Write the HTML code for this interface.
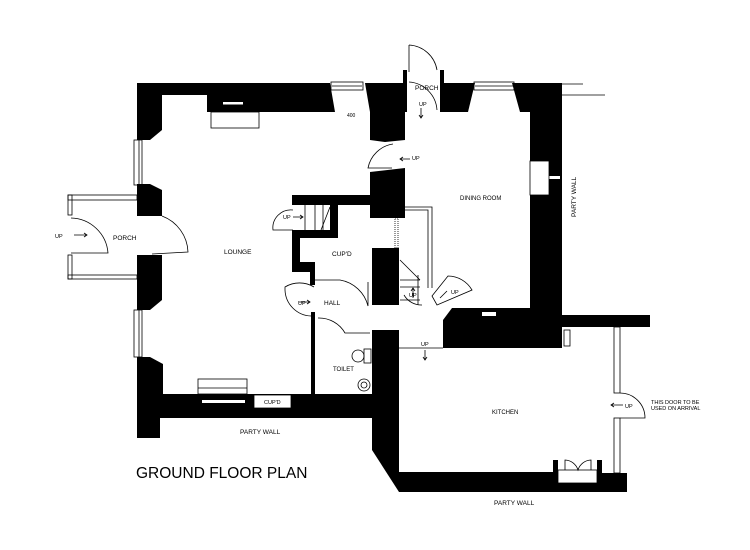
<!DOCTYPE html>
<html><head><meta charset="utf-8"><style>
html,body{margin:0;padding:0;background:#fff;}
svg{display:block;}
text{font-family:"Liberation Sans",sans-serif;fill:#000;}
.s{font-size:5.5px;}
</style></head><body>
<svg width="750" height="550" viewBox="0 0 750 550" xmlns="http://www.w3.org/2000/svg">
<g fill="#000" stroke="none">
<polygon points="137,83 330,83 335,112 207,112 207,95 162,95 162,130 150,140 137,140"/>
<polygon points="137,184 150,184 162,190 162,216 137,216"/>
<polygon points="137,255 162,255 162,300 150,310 137,310"/>
<polygon points="137,357 150,357 163,364 163,394 372,394 372,418 160,418 160,438 137,438"/>
<polygon points="365,83 405,83 405,140 385,142 370,140 370,112"/>
<rect x="403" y="70" width="4" height="42"/>
<rect x="440" y="70" width="4" height="42"/>
<polygon points="444,83 475,83 468,112 444,112"/>
<polygon points="512,83 562,83 562,315 650,315 650,327 562,327 562,348 443,348 443,320 452,308 530,308 530,112 520,112"/>
<!-- middle walls -->
<polygon points="370,172 405,168 405,218 370,218 370,205 292,205 292,195 370,195"/>
<rect x="330" y="205" width="8" height="33"/>
<rect x="292" y="230" width="46" height="8"/>
<rect x="292" y="238" width="8" height="34"/>
<rect x="292" y="262" width="22" height="10"/>
<rect x="310" y="262" width="5" height="23"/>
<rect x="372" y="248" width="27" height="57"/>
<rect x="311" y="312" width="4" height="82"/>
<polygon points="372,330 399,330 399,472 553,472 553,460 558,460 558,483 597,483 597,460 602,460 602,473 627,473 627,492 399,492 372,450"/>
</g>
<g fill="#fff">
<rect x="223" y="102" width="20" height="2.5"/>
<rect x="482" y="312" width="14" height="4"/>
<rect x="202" y="400" width="43" height="3"/>
<rect x="549" y="176" width="11" height="3"/>
</g>
<g fill="none" stroke="#000" stroke-width="0.8">
<rect x="134" y="140" width="8" height="45"/><line x1="139" y1="140" x2="139" y2="185"/>
<rect x="134" y="310" width="8" height="47"/><line x1="139" y1="310" x2="139" y2="357"/>
<rect x="331" y="82" width="32" height="8"/><line x1="332" y1="86" x2="362" y2="86"/>
<rect x="474" y="82" width="40" height="8"/><line x1="475" y1="86" x2="513" y2="86"/>
<rect x="68" y="195" width="69" height="5"/><rect x="68" y="275" width="69" height="4"/>
<rect x="68" y="195" width="4" height="20"/><rect x="68" y="255" width="4" height="24"/>
<path d="M71,218 A38,38 0 0 1 108,253 L71,253"/>
<path d="M162,216 A40,40 0 0 1 188,252 L152,254"/>
<rect x="211" y="112" width="48" height="16"/>
<rect x="198" y="379" width="49" height="15"/><line x1="198" y1="388" x2="247" y2="388"/>
<rect x="254" y="395" width="37" height="13" fill="#fff"/>
<rect x="530" y="161" width="19" height="34" fill="#fff"/>
<path d="M409,45 A30,30 0 0 1 437,70 M409,45 L409,72"/>
<path d="M409,82 A30,30 0 0 1 437,110"/>
<line x1="562" y1="84" x2="583" y2="84"/><line x1="562" y1="95" x2="605" y2="95"/>
<path d="M393,144 A30,30 0 0 0 368,168 L392,168"/>
<path d="M293,210 A18,18 0 0 0 273,230 L293,230"/>
<line x1="305" y1="205" x2="305" y2="230"/><line x1="315" y1="205" x2="315" y2="230"/><line x1="323" y1="205" x2="323" y2="230"/>
<line x1="330" y1="207" x2="321" y2="230"/>
<path d="M405,207 L432,207 L432,288 M405,210 L428,210 L428,288"/>
<rect x="395" y="218" width="3" height="30" stroke-dasharray="1,1"/>
<path d="M314,287 A28,28 0 0 0 285,287 L285,290 M285,290 A27,27 0 0 0 311,316"/>
<path d="M315,280 L340,280 M340,280 A35,35 0 0 1 368,306 L368,282"/>
<path d="M318,318 A30,30 0 0 1 345,333 L370,333"/>
<path d="M400,280 L420,280 M400,287 L420,287 M400,300 L420,300 M418,275 L418,305 M400,260 L420,280"/>
<path d="M404,295 A20,20 0 0 0 422,305"/>
<path d="M432,296 L448,276 A28,28 0 0 1 472,290 L437,305 Z"/>
<ellipse cx="358" cy="356" rx="6" ry="6"/><rect x="364" y="349" width="7" height="14"/>
<circle cx="364" cy="385" r="6"/><circle cx="364" cy="385" r="3"/>
<line x1="399" y1="348" x2="443" y2="348"/>
<rect x="564" y="330" width="6" height="16"/>
<rect x="614" y="327" width="6" height="66"/><rect x="614" y="418" width="6" height="55"/>
<path d="M620,393 A25,25 0 0 1 645,418 L620,418"/>
<rect x="558" y="470" width="39" height="13"/>
<path d="M565,470 L565,460 A14,14 0 0 1 578,470 A14,14 0 0 1 591,460 L591,470"/>
<path d="M74,235 L87,235 M84,233 L87,235 L84,237"/>
<path d="M293,217 L303,217 M300,215 L303,217 L300,219"/>
<path d="M299,302 L310,302 M307,300 L310,302 L307,304"/>
<path d="M410,159 L400,159 M403,157 L400,159 L403,161"/>
<path d="M421,108 L421,118 M419,115 L421,118 L423,115"/>
<path d="M623,405 L611,405 M614,403 L611,405 L614,407"/>
<path d="M425,350 L425,360 M423,357 L425,360 L427,357"/>
<path d="M413,298 L413,288 M411,291 L413,288 L415,291"/>
<path d="M447,291 L440,298"/>
</g>
<g class="s">
<text x="55" y="238">UP</text>
<text x="113" y="240" font-size="6.5">PORCH</text>
<text x="224" y="254" font-size="6.5">LOUNGE</text>
<text x="283" y="219">UP</text>
<text x="332" y="256" font-size="6.5">CUP'D</text>
<text x="298" y="305">UP</text>
<text x="324" y="305" font-size="6.5">HALL</text>
<text x="333" y="371" font-size="6">TOILET</text>
<text x="347" y="117" font-size="5">400</text>
<text x="415" y="90" font-size="6.5">PORCH</text>
<text x="419" y="106">UP</text>
<text x="412" y="160">UP</text>
<text x="460" y="200" font-size="6">DINING ROOM</text>
<text x="451" y="294">UP</text>
<text x="409" y="297">UP</text>
<text x="421" y="346">UP</text>
<text x="492" y="414" font-size="6">KITCHEN</text>
<text x="625" y="408">UP</text>
<text x="651" y="404">THIS DOOR TO BE</text>
<text x="651" y="410">USED ON ARRIVAL</text>
<text x="264" y="404">CUP'D</text>
<text x="240" y="434" font-size="6.5">PARTY WALL</text>
<text x="494" y="505" font-size="6.5">PARTY WALL</text>
<text x="0" y="0" font-size="6.5" transform="translate(576,217) rotate(-90)">PARTY WALL</text>
</g>
<text x="136" y="478" font-size="15.5">GROUND FLOOR PLAN</text>
</svg>
</body></html>
